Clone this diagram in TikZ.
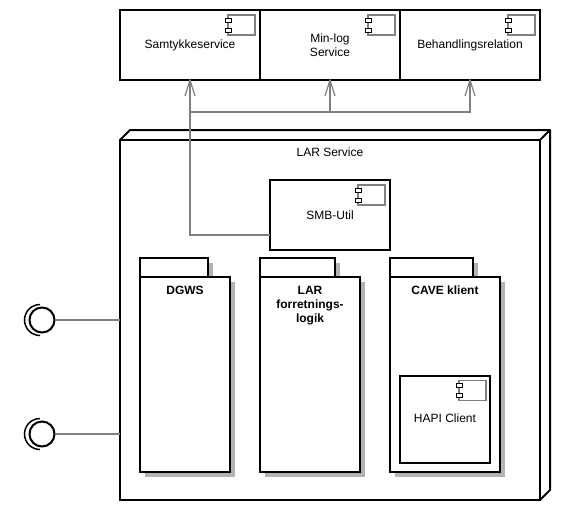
\documentclass[tikz,border=0pt]{standalone}
\usepackage{fontspec}
\setmainfont{Liberation Sans}
\usepackage{tikz}
\usetikzlibrary{positioning, calc, shadows}
\definecolor{LineGray}{RGB}{128, 128, 128}
\definecolor{ShadowGray}{RGB}{179, 179, 179}

\begin{document}
\begin{tikzpicture}[
    x=1pt, y=-1pt,
    font=\fontsize{12}{14}\selectfont,
    box/.style={draw=black, line width=2pt, fill=white, inner sep=0pt, outer sep=0pt, align=center},
    servicebox/.style={box, minimum width=140pt, minimum height=70pt},
    pkgbody/.style={box, anchor=north west, minimum height=195pt, drop shadow={shadow xshift=4.5pt, shadow yshift=-4.5pt, opacity=1, fill=ShadowGray}},
    pkgtab/.style={box, anchor=north west, minimum height=19pt, drop shadow={shadow xshift=4.5pt, shadow yshift=-4.5pt, opacity=1, fill=ShadowGray}},
    pkglabel/.style={font=\fontsize{12}{14}\selectfont\bfseries, align=center, inner sep=0pt, anchor=north},
    interface/.style={circle, draw=black, line width=2pt, fill=white, inner sep=0pt, outer sep=0pt, minimum size=25pt},
    conn/.style={draw=LineGray, line width=1.6pt},
    openhead/.pic={
      \draw[draw=LineGray, line width=1.2pt, line join=miter] (-5,16) -- (0,0) -- (5,16);
    },
    compicon/.pic={
      \draw[draw=LineGray, line width=1.3pt] (-27,0) rectangle (0,20);
      \draw[draw=black, line width=1pt, fill=white] (-30,3) rectangle (-24,7);
      \draw[draw=black, line width=1pt, fill=white] (-30,13) rectangle (-24,17);
    }
  ]
    \useasboundingbox (0,0) rectangle (565,520);

    % Services (top row)
    \node[servicebox] (sam) at (190,45) {Samtykkeservice};
    \node[servicebox] (minlog) at (330,45) {Min-log\\Service};
    \node[servicebox] (behandling) at (470,45) {Behandlingsrelation};
    \pic at (255,15) {compicon};
    \pic at (395,15) {compicon};
    \pic at (535,15) {compicon};

    % LAR Service (node)
    \node[box, minimum width=420pt, minimum height=360pt] (lar) at (330,320) {};
    \draw[line width=2pt, line join=round] (lar.north west) -- ++(10,-10) -- ($(lar.north east)+(10,-10)$) -- ($(lar.south east)+(10,-10)$) -- (lar.south east);
    \draw[line width=2pt] (lar.north east) -- ++(10,-10);
    \node[inner sep=0pt, below=8pt of lar.north] (lartitle) {LAR Service};

    % SMB-Util
    \node[box, minimum width=120pt, minimum height=70pt] (smb) at (330,215) {SMB-Util};
    \pic at (385,185) {compicon};

    % Packages
    \node[pkgtab, minimum width=68pt] (dgwstab) at (140,258) {};
    \node[pkgbody, minimum width=90pt] (dgws) at (140,277) {};
    \node[pkglabel, below=9pt of dgws.north] (dgwslabel) {DGWS};

    \node[pkgtab, minimum width=75pt] (logiktab) at (260,258) {};
    \node[pkgbody, minimum width=100pt] (logik) at (260,277) {};
    \node[pkglabel, below=9pt of logik.north] (logiklabel) {LAR\\forretnings-\\logik};

    \node[pkgtab, minimum width=83pt] (cavetab) at (390,258) {};
    \node[pkgbody, minimum width=110pt] (cave) at (390,277) {};
    \node[pkglabel, below=9pt of cave.north] (cavelabel) {CAVE klient};

    % HAPI inside CAVE
    \node[box, minimum width=90pt, minimum height=87pt] (hapi) at (445,419.5) {};
    \node[inner sep=0pt] (hapilabel) at (445,418) {HAPI Client};
    \pic at (486,380.5) {compicon};

    % Interfaces
    \node[interface] (if1) at (42,320) {};
    \node[interface] (if2) at (42,434) {};
    \draw[line width=1.5pt] (40,304.5) arc[start angle=-90, end angle=-270, radius=15.5];
    \draw[line width=1.5pt] (40,418.5) arc[start angle=-90, end angle=-270, radius=15.5];

    % Connectors
    \draw[conn] (if1.east) -- (if1.east -| lar.west);
    \draw[conn] (if2.east) -- (if2.east -| lar.west);
    \coordinate (bus) at (190,112);
    \draw[conn] ([yshift=-20pt]smb.west) -| (sam.south);
    \draw[conn] (bus) -| (minlog.south);
    \draw[conn] (bus) -| (behandling.south);
    \pic at (sam.south) {openhead};
    \pic at (minlog.south) {openhead};
    \pic at (behandling.south) {openhead};
  \end{tikzpicture}
\end{document}
